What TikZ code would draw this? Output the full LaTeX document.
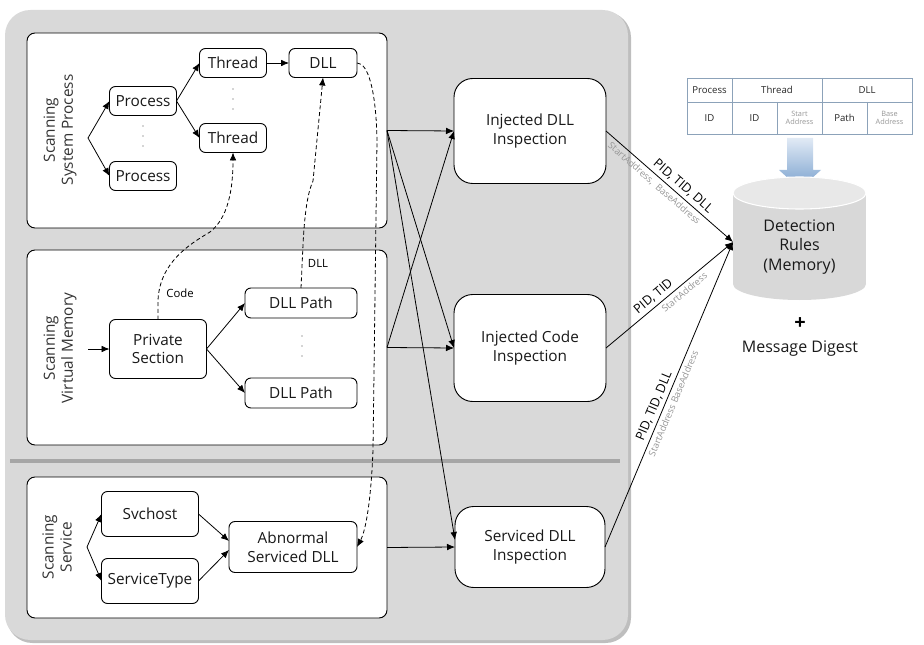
\documentclass[tikz,border=0pt]{standalone}
\usepackage{fontspec}
\setmainfont{Open Sans}
\usetikzlibrary{arrows.meta,calc}
\definecolor{panelgray}{RGB}{217,217,217}
\definecolor{shadowgray}{RGB}{190,190,190}
\definecolor{sepgray}{RGB}{166,166,166}
\definecolor{tabline}{RGB}{140,162,185}
\definecolor{lblgray}{RGB}{150,150,150}
\definecolor{cylbody}{RGB}{216,216,216}
\definecolor{cyltop}{RGB}{232,232,232}
\definecolor{arrtop}{RGB}{225,234,245}
\definecolor{arrbot}{RGB}{120,160,205}
\tikzset{
  boxtext/.style={font=\fontsize{11.5}{14}\selectfont, text=black!90},
  sbox/.style={draw, line width=0.7pt, rounded corners=4.5pt, fill=white, inner sep=0pt, outer sep=0pt, align=center, boxtext},
  bigbox/.style={draw, line width=0.7pt, rounded corners=14pt, fill=white, inner sep=0pt, outer sep=0pt, align=center, boxtext, minimum width=114pt},
  panel/.style={draw, line width=0.7pt, rounded corners=6pt, fill=white, inner sep=0pt, outer sep=0pt, minimum width=270pt},
  vlabel/.style={rotate=90, align=center, font=\fontsize{11.5}{13.5}\selectfont, text=black!80},
  conn/.style={line width=0.6pt, -{Latex[length=6pt,width=5pt]}},
  dconn/.style={line width=0.6pt, dashed, dash pattern=on 3pt off 2pt, -{Latex[length=6pt,width=5pt]}},
  biglbl/.style={font=\fontsize{9.5}{11}\selectfont, text=black, inner sep=2.5pt},
  smlbl/.style={font=\fontsize{7}{8}\selectfont, text=lblgray, inner sep=2.5pt},
  tabtxt/.style={font=\fontsize{7.2}{8}\selectfont, text=black!85},
  tabsm/.style={font=\fontsize{5.5}{6}\selectfont, text=lblgray, align=center},
  dotc/.style={fill=black!70, radius=0.6}
}
\begin{document}
\begin{tikzpicture}[x=0.75pt,y=-0.75pt]
\useasboundingbox (0,0) rectangle (924,645);
% big gray background panel
\fill[shadowgray, rounded corners=19pt] (7,12) rectangle (631,643);
\fill[panelgray, rounded corners=19pt] (5,10) rectangle (628,640);
\draw[sepgray, line width=3pt] (10,461) -- (620,461);

% panels
\node[panel, minimum height=146.25pt] (p1) at (207,130.5) {};
\node[panel, minimum height=146.25pt] (p2) at (207,347.5) {};
\node[panel, minimum height=105.75pt] (p3) at (207,547.5) {};

\node[vlabel] (l1) at (60,130) {Scanning\\System Process};
\node[vlabel] (l2) at (60,348) {Scanning\\Virtual Memory};
\node[vlabel] (l3) at (57,547) {Scanning\\Service};

% panel 1
\node[sbox, minimum width=50.25pt, minimum height=21.75pt] (pr1) at (143,101) {Process};
\node[sbox, minimum width=50.25pt, minimum height=21.75pt] (pr2) at (143,176) {Process};
\node[sbox, minimum width=50.25pt, minimum height=21.75pt] (th1) at (233,63) {Thread};
\node[sbox, minimum width=50.25pt, minimum height=21.75pt] (th2) at (233,138) {Thread};
\node[sbox, minimum width=51pt, minimum height=21.75pt] (dll) at (323,63) {DLL};
\coordinate (f1) at (88,138);
\draw[conn] (f1) -- (pr1.west);
\draw[conn] (f1) -- (pr2.west);
\draw[conn] (pr1.east) -- (th1.west);
\draw[conn] (pr1.east) -- (th2.west);
\draw[conn] (th1.east) -- (dll.west);
\fill[dotc] (143,126) circle; \fill[dotc] (143,136) circle; \fill[dotc] (143,146) circle;
\fill[dotc] (233,89) circle; \fill[dotc] (233,99) circle; \fill[dotc] (233,109) circle;

% panel 2
\node[sbox, minimum width=72.75pt, minimum height=44.25pt] (priv) at (158,349) {Private\\Section};
\node[sbox, minimum width=84pt, minimum height=22.5pt] (dp1) at (301,303) {DLL Path};
\node[sbox, minimum width=84pt, minimum height=22.5pt] (dp2) at (301,393) {DLL Path};
\coordinate (f2) at (88,349);
\draw[conn] (f2) -- (priv.west);
\draw[conn] (priv.east) -- (dp1.west);
\draw[conn] (priv.east) -- (dp2.west);
\fill[dotc] (302,336) circle; \fill[dotc] (302,346) circle; \fill[dotc] (302,356) circle;

% panel 3
\node[sbox, minimum width=72.75pt, minimum height=33.75pt] (svc) at (150,514) {Svchost};
\node[sbox, minimum width=72.75pt, minimum height=33.75pt] (stp) at (150,581) {ServiceType};
\node[sbox, minimum width=96pt, minimum height=38.25pt] (abn) at (293,547) {Abnormal\\Serviced DLL};
\coordinate (f3) at (87,547);
\draw[conn] (f3) -- (svc.west);
\draw[conn] (f3) -- (stp.west);
\draw[conn] (svc.east) -- ($(abn.west)+(0,-6)$);
\draw[conn] (stp.east) -- ($(abn.west)+(0,3)$);

% dashed connectors
\draw[dconn] (priv.north) -- (158,300) .. controls (160,262) and (190,244) .. (210,232)
   .. controls (228,218) and (233,190) .. (th2.south);
\node[font=\fontsize{8.5}{9}\selectfont] (codelbl) at (180,293) {Code};
\draw[dconn] (dp1.north) -- (303,245) .. controls (305,205) and (309,190) .. (313,181) -- (dll.south);
\node[font=\fontsize{8.5}{9}\selectfont] (dlllbl) at (318,263) {DLL};
\draw[dconn] (dll.east) .. controls (368,63) and (376,90) .. (377,140) -- (373,450)
   .. controls (371,500) and (366,530) .. (abn.east);

% inspection boxes
\node[bigbox, minimum height=78.75pt] (idll) at (530,131) {Injected DLL\\Inspection};
\node[bigbox, minimum height=80.25pt] (icode) at (530,348) {Injected Code\\Inspection};
\node[bigbox, minimum width=112.5pt, minimum height=60.75pt] (sdll) at (530,547) {Serviced DLL\\Inspection};

\draw[conn] (p1.east) -- (idll.west);
\draw[conn] (p1.east) -- (icode.west);
\draw[conn] (p1.east) -- ($(sdll.west)+(0,-7)$);
\draw[conn] (p2.east) -- (icode.west);
\draw[conn] (p2.east) -- (idll.west);
\draw[conn] (p3.east) -- (sdll.west);

% table
\draw[tabline, line width=0.6pt] (687,78) rectangle (912,134);
\draw[tabline, line width=0.6pt] (687,102) -- (912,102);
\draw[tabline, line width=0.6pt] (732,78) -- (732,134);
\draw[tabline, line width=0.6pt] (822,78) -- (822,134);
\draw[tabline, line width=0.6pt] (777,102) -- (777,134);
\draw[tabline, line width=0.6pt] (867,102) -- (867,134);
\node[tabtxt] (tp) at (709.5,90) {Process};
\node[tabtxt] (tt) at (777,90) {Thread};
\node[tabtxt] (td) at (867,90) {DLL};
\node[tabtxt] (t1) at (709.5,118) {ID};
\node[tabtxt] (t2) at (754.5,118) {ID};
\node[tabsm] (t3) at (799.5,118) {Start\\Address};
\node[tabtxt] (t4) at (844.5,118) {Path};
\node[tabsm] (t5) at (889.5,118) {Base\\Address};

% block arrow
\shade[top color=arrtop, bottom color=arrbot] (787,138) -- (813,138) -- (813,170) -- (821,170) -- (800,189) -- (779,170) -- (787,170) -- cycle;

% cylinder
\fill[cylbody] (799.5,284) ellipse [x radius=66.5, y radius=16];
\fill[cylbody] (733,193) rectangle (866,284);
\fill[cyltop] (799.5,193) ellipse [x radius=66.5, y radius=16];
\draw[white, line width=0.8pt] (799.5,193) ellipse [x radius=66.5, y radius=16];
\node[align=center, text=black!90, font=\fontsize{12}{14.5}\selectfont] (cyl) at (799.5,247) {Detection\\Rules\\(Memory)};
\coordinate (cin) at (733,242);
\node[font=\fontsize{15}{15}\selectfont\bfseries] (plus) at (800,324) {+};
\node[text=black!90, font=\fontsize{12}{14}\selectfont] (md) at (800,349) {Message Digest};

% arrows to detection rules
\draw[conn] (idll.east) -- node[sloped, above, pos=0.56, biglbl] {PID, TID, DLL}
   node[sloped, below, pos=0.42, smlbl] {StartAddress,\ \ BaseAddress} (cin);
\draw[conn] (icode.east) -- node[sloped, above, pos=0.42, biglbl] {PID, TID}
   node[sloped, below, pos=0.58, smlbl] {StartAddress} (cin);
\draw[conn] (sdll.east) -- node[sloped, above, pos=0.45, biglbl] {PID, TID, DLL}
   node[sloped, below, pos=0.48, smlbl] {StartAddress BaseAddress} (cin);
\end{tikzpicture}
\end{document}
